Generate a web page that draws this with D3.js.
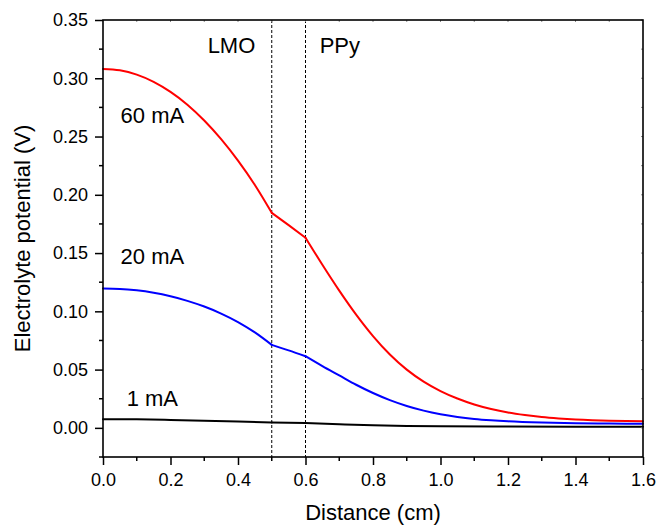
<!DOCTYPE html>
<html>
<head>
<meta charset="utf-8">
<script src="https://cdn.jsdelivr.net/npm/d3@7"></script>
<style>
  body { margin: 0; background: #fff; }
  text { font-family: "Liberation Sans", Arial, sans-serif; fill: #000; }
</style>
</head>
<body>
<svg id="chart" width="657" height="525"></svg>
<script>
// ---- Data ----
const dist60 = [0, 0.05, 0.1, 0.15, 0.2, 0.25, 0.3, 0.35, 0.4, 0.45, 0.5, 0.55, 0.6, 0.65, 0.7, 0.75, 0.8, 0.85, 0.9, 0.95, 1.0, 1.05, 1.1, 1.15, 1.2, 1.25, 1.3, 1.35, 1.4, 1.45, 1.5, 1.55, 1.6];
const pot60  = [0.308, 0.3068, 0.3031, 0.2969, 0.2883, 0.2773, 0.2637, 0.2477, 0.2293, 0.2084, 0.1845, 0.1740, 0.1632, 0.1400, 0.1178, 0.0972, 0.0788, 0.0630, 0.0500, 0.0397, 0.0316, 0.0252, 0.0201, 0.0162, 0.0132, 0.0110, 0.0093, 0.0081, 0.0072, 0.0066, 0.0062, 0.0059, 0.0057];

const dist20 = [0, 0.05, 0.1, 0.15, 0.2, 0.25, 0.3, 0.35, 0.4, 0.45, 0.5, 0.55, 0.6, 0.65, 0.7, 0.75, 0.8, 0.85, 0.9, 0.95, 1.0, 1.05, 1.1, 1.15, 1.2, 1.3, 1.4, 1.5, 1.6];
const pot20  = [0.1195, 0.1192, 0.1180, 0.1159, 0.1129, 0.1090, 0.1041, 0.0981, 0.0908, 0.0819, 0.0712, 0.0665, 0.0615, 0.0530, 0.0450, 0.0370, 0.0299, 0.0238, 0.0188, 0.0148, 0.0117, 0.0094, 0.0077, 0.0065, 0.0056, 0.0045, 0.0039, 0.0037, 0.0035];

const dist1 = [0, 0.1, 0.2, 0.3, 0.4, 0.5, 0.6, 0.7, 0.8, 0.9, 1.0, 1.2, 1.4, 1.6];
const pot1  = [0.0075, 0.0073, 0.0068, 0.0062, 0.0055, 0.0047, 0.0041, 0.0031, 0.0022, 0.0016, 0.0013, 0.0011, 0.0010, 0.0010];

const seriesNames  = ["60 mA", "20 mA", "1 mA"];
const seriesColors = ["#ff0000", "#0000ff", "#000000"];
const boundaries = [0.5, 0.6];
const regionLabels = ["LMO", "PPy"];

const xTicks = [0, 0.2, 0.4, 0.6, 0.8, 1.0, 1.2, 1.4, 1.6];
const yTicks = [0, 0.05, 0.10, 0.15, 0.20, 0.25, 0.30, 0.35];

// ---- Layout ----
const svg = d3.select("#chart");
const m = { left: 103, top: 20, right: 14, bottom: 68 };
const W = 657 - m.left - m.right;   // 540
const H = 525 - m.top - m.bottom;   // 437

const x = d3.scaleLinear().domain([0, 1.6]).range([0, W]);
const y = d3.scaleLinear().domain([-0.025, 0.35]).range([H, 0]);

const g = svg.append("g").attr("transform", `translate(${m.left},${m.top})`);

// dashed boundaries
g.selectAll("line.bound").data(boundaries).enter().append("line")
  .attr("x1", d => x(d)).attr("x2", d => x(d))
  .attr("y1", 0).attr("y2", H)
  .attr("stroke", "#000").attr("stroke-width", 1)
  .attr("stroke-dasharray", "3,2");

// curves: split at boundaries to keep the kinks sharp
const series = [
  { d: dist60, v: pot60 },
  { d: dist20, v: pot20 },
  { d: dist1,  v: pot1 }
];
const line = d3.line().x(p => x(p[0])).y(p => y(p[1])).curve(d3.curveMonotoneX);
series.forEach((s, i) => {
  const pts = s.d.map((d, k) => [d, s.v[k]]);
  const segs = [
    pts.filter(p => p[0] <= boundaries[0] + 1e-9),
    pts.filter(p => p[0] >= boundaries[0] - 1e-9 && p[0] <= boundaries[1] + 1e-9),
    pts.filter(p => p[0] >= boundaries[1] - 1e-9)
  ];
  segs.forEach(seg => {
    if (seg.length < 2) return;
    g.append("path").datum(seg)
      .attr("d", line)
      .attr("fill", "none")
      .attr("stroke", seriesColors[i])
      .attr("stroke-width", 2)
      .attr("stroke-linejoin", "round")
      .attr("stroke-linecap", "round");
  });
});

// axes
const xAxis = d3.axisBottom(x).tickValues(xTicks).tickFormat(d3.format(".1f")).tickSize(8).tickPadding(8);
const yAxis = d3.axisLeft(y).tickValues(yTicks).tickFormat(d3.format(".2f")).tickSize(8).tickPadding(7);

const gx = g.append("g").attr("transform", `translate(0,${H})`).call(xAxis);
const gy = g.append("g").call(yAxis);
[gx, gy].forEach(a => {
  a.select(".domain").remove();
  a.selectAll(".tick line").attr("stroke", "#000").attr("stroke-width", 1.5);
  a.selectAll(".tick text").style("font-size", "18px").style("font-family", "'Liberation Sans', Arial, sans-serif").attr("fill", "#000");
});

// minor ticks
const xMinor = d3.range(0.1, 1.6, 0.2);
const yMinor = [-0.025, 0.025, 0.075, 0.125, 0.175, 0.225, 0.275, 0.325];
g.selectAll("line.xminor").data(xMinor).enter().append("line")
  .attr("x1", d => x(d)).attr("x2", d => x(d)).attr("y1", H).attr("y2", H + 4)
  .attr("stroke", "#000").attr("stroke-width", 1.5);
g.selectAll("line.yminor").data(yMinor).enter().append("line")
  .attr("x1", -4).attr("x2", 0).attr("y1", d => y(d)).attr("y2", d => y(d))
  .attr("stroke", "#000").attr("stroke-width", 1.5);

// small mirrored ticks on top and right
g.selectAll("line.top").data(d3.range(0.1, 1.6, 0.1)).enter().append("line")
  .attr("x1", d => x(d)).attr("x2", d => x(d)).attr("y1", 0).attr("y2", 2)
  .attr("stroke", "#888").attr("stroke-width", 1);
g.selectAll("line.right").data(yMinor.concat(yTicks)).enter().append("line")
  .attr("x1", W - 2).attr("x2", W).attr("y1", d => y(d)).attr("y2", d => y(d))
  .attr("stroke", "#888").attr("stroke-width", 1);

// frame
g.append("rect").attr("x", 0).attr("y", 0).attr("width", W).attr("height", H)
  .attr("fill", "none").attr("stroke", "#000").attr("stroke-width", 1.6);

// axis titles
svg.append("text")
  .attr("x", m.left + W / 2).attr("y", 520)
  .attr("text-anchor", "middle").style("font-size", "22px")
  .text("Distance (cm)");
svg.append("text")
  .attr("transform", `translate(30,${m.top + H / 2}) rotate(-90)`)
  .attr("text-anchor", "middle").style("font-size", "22px")
  .text("Electrolyte potential (V)");

// series annotations
const labelPos = [[0.052, 0.262], [0.052, 0.141], [0.07, 0.0185]];
seriesNames.forEach((n, i) => {
  g.append("text")
    .attr("x", x(labelPos[i][0])).attr("y", y(labelPos[i][1]))
    .style("font-size", "22px").text(n);
});

// region labels
const regionPos = [0.31, 0.642];
regionLabels.forEach((n, i) => {
  g.append("text")
    .attr("x", x(regionPos[i])).attr("y", 33)
    .style("font-size", "22px").text(n);
});
</script>
</body>
</html>
